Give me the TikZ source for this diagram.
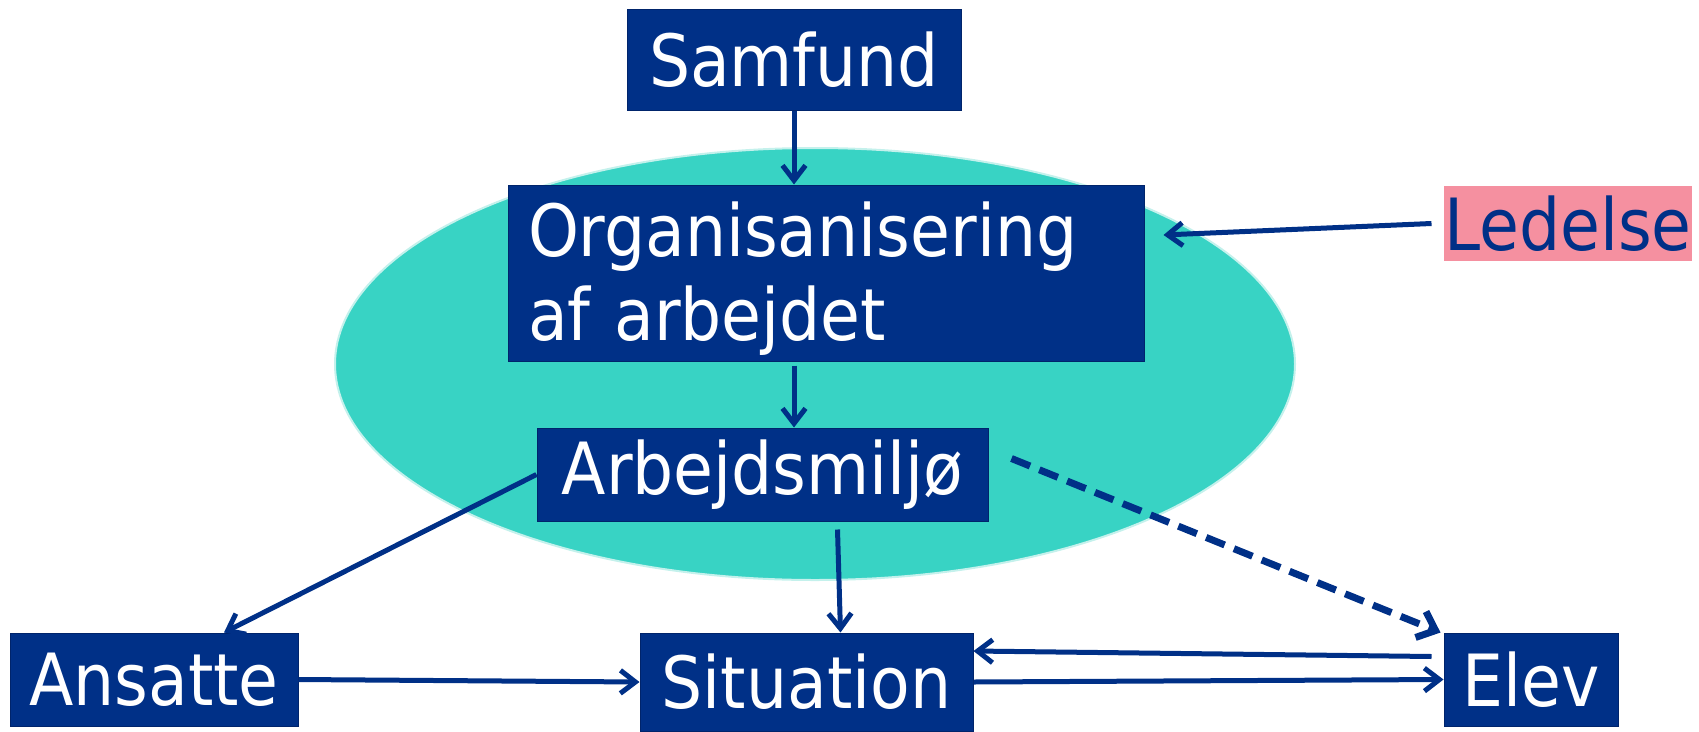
\documentclass[tikz,border=0pt]{standalone}
\usepackage{fontspec}
\setmainfont{DejaVu Sans Condensed}
\usetikzlibrary{arrows.meta,calc}

\definecolor{navy}{HTML}{003087}
\definecolor{navyline}{HTML}{00246B}
\definecolor{teal}{HTML}{38D3C4}
\definecolor{tealline}{HTML}{C4F1EC}
\definecolor{pink}{HTML}{F590A0}

\tikzset{
    box/.style={rectangle, fill=navy, draw=navyline, line width=1pt, text=white,
        font=\fontsize{72}{84}\selectfont, inner sep=0pt},
    flow/.style={draw=navy, line width=5pt, -{Straight Barb[length=15pt,width=23pt]}},
}

\begin{document}
\begin{tikzpicture}[x=1pt,y=-1pt]
        \useasboundingbox (0,0) rectangle (1699,731);

        % Ellipse
        \fill[teal, draw=tealline, line width=2pt] (815,364) ellipse [x radius=480, y radius=216];

        % Nodes
        \node[box, minimum width=334, minimum height=101] (samfund) at (794,59.5) {Samfund};
        \node[box, text width=596, inner xsep=20, minimum height=176, align=left] (org) at (826,273)
            {\rule{0pt}{66pt}Organisanisering\\af arbejdet};
        \node[box, minimum width=451, minimum height=93] (miljo) at (762.5,474.5) {Arbejdsmiljø};
        \node[box, fill=pink, draw=none, text=navy, minimum width=248, minimum height=75] (ledelse) at (1568,223.5) {Ledelse};
        \node[box, minimum width=288, minimum height=93] (ansatte) at (154,679.5) {Ansatte};
        \node[box, minimum width=333, minimum height=98] (situation) at (806.5,682) {Situation};
        \node[box, minimum width=174, minimum height=93] (elev) at (1531,679.5) {Elev};

        % Connectors
        \draw[flow] (samfund.south) -- (samfund.south |- org.north);
        \draw[flow] ([xshift=-12pt]ledelse.west) -- ([xshift=19pt,yshift=38pt]org.east);
        \draw[flow] ([yshift=-4pt]org.south -| samfund.south) -- (samfund.south |- miljo.north);
        \draw[flow] (miljo.west) -- ([xshift=70pt]ansatte.north);
        \draw[flow] ([xshift=75pt,yshift=-8pt]miljo.south) -- ([xshift=34pt]situation.north);
        \draw[flow, line width=7pt, dash pattern=on 20pt off 10pt,
            -{Straight Barb[length=16pt,width=28pt]}]
            ([xshift=23pt,yshift=16pt]miljo.east) -- ([xshift=-3pt]elev.north west);
        \draw[flow] (ansatte.east) -- (situation.west);
        \draw[flow] ([xshift=-12pt,yshift=23pt]elev.west) -- ([yshift=31pt]situation.east);
        \draw[flow] (situation.east) -- (elev.west);
    \end{tikzpicture}
\end{document}
